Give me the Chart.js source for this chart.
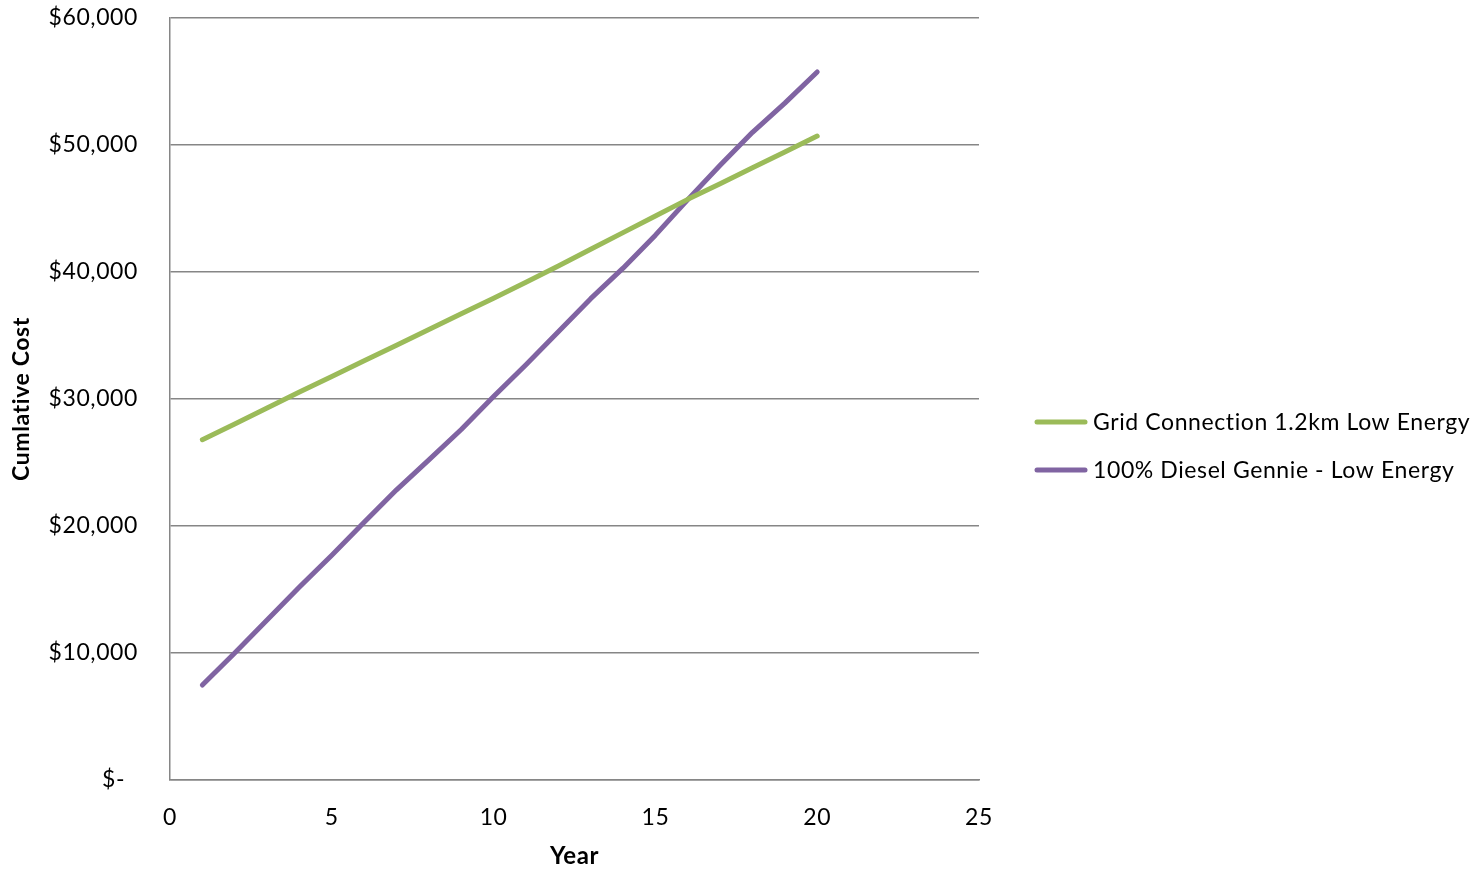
<!DOCTYPE html>
<html>
<head>
<meta charset="utf-8">
<script src="https://cdn.jsdelivr.net/npm/chart.js@4/dist/chart.umd.min.js"></script>
<style>
  html, body { margin: 0; padding: 0; background: #ffffff; }
  #wrap { width: 1481px; height: 871px; position: relative; }
</style>
</head>
<body>
<div id="wrap"><canvas id="c" width="1481" height="871"></canvas></div>
<script>
// Years of operation
const years = [1, 2, 3, 4, 5, 6, 7, 8, 9, 10, 11, 12, 13, 14, 15, 16, 17, 18, 19, 20];

// Cumulative cost per option (USD)
const gridConnection = [26800, 28030, 29290, 30550, 31780, 33010, 34240, 35480, 36710, 37940,
                        39200, 40470, 41790, 43100, 44410, 45720, 46950, 48200, 49450, 50700];
const dieselGennie   = [7480, 10000, 12600, 15200, 17700, 20300, 22850, 25200, 27600, 30200,
                        32700, 35300, 37900, 40300, 42900, 45700, 48400, 51000, 53300, 55750];

const seriesNames = ['Grid Connection 1.2km Low Energy', '100% Diesel Gennie - Low Energy'];
const seriesColors = ['#9BBB59', '#8064A2'];

const yTicks = [0, 10000, 20000, 30000, 40000, 50000, 60000];
const xTicks = [0, 5, 10, 15, 20, 25];

const FONT = 'Lato, "Open Sans", sans-serif';
const GRID = '#868686';
const SPACING = '0.6px';

function toPoints(values) {
  return years.map((yr, i) => ({ x: yr, y: values[i] }));
}

function money(v) {
  if (v === 0) return '$-  ';
  return '$' + v.toLocaleString('en-US');
}

// Slightly wider letter spacing for all canvas text
const spacing = {
  id: 'spacing',
  beforeInit(chart) { chart.ctx.letterSpacing = SPACING; },
  beforeDraw(chart) { chart.ctx.letterSpacing = SPACING; }
};

// Legend on the right: line swatch + label
const sideLegend = {
  id: 'sideLegend',
  afterDraw(chart) {
    const ctx = chart.ctx;
    ctx.save();
    ctx.letterSpacing = SPACING;
    const rows = [422, 470];
    chart.data.datasets.forEach((ds, i) => {
      const y = rows[i];
      ctx.strokeStyle = ds.borderColor;
      ctx.lineWidth = 5;
      ctx.lineCap = 'round';
      ctx.beginPath();
      ctx.moveTo(1037, y);
      ctx.lineTo(1085, y);
      ctx.stroke();
      ctx.fillStyle = '#000000';
      ctx.font = '23px ' + FONT;
      ctx.textAlign = 'left';
      ctx.textBaseline = 'middle';
      ctx.fillText(ds.label, 1093, y + 1);
    });
    ctx.restore();
  }
};

new Chart(document.getElementById('c'), {
  type: 'line',
  data: {
    datasets: [
      { label: seriesNames[0], data: toPoints(gridConnection), borderColor: seriesColors[0] },
      { label: seriesNames[1], data: toPoints(dieselGennie), borderColor: seriesColors[1] }
    ]
  },
  options: {
    responsive: false,
    animation: false,
    devicePixelRatio: 1,
    layout: { padding: { top: 18, right: 502, left: 0, bottom: 0 } },
    elements: {
      line: { borderWidth: 5, tension: 0, borderCapStyle: 'round', borderJoinStyle: 'round', fill: false },
      point: { radius: 0, hoverRadius: 0 }
    },
    plugins: {
      legend: { display: false },
      tooltip: { enabled: false }
    },
    scales: {
      x: {
        type: 'linear',
        min: 0, max: 25,
        afterBuildTicks(scale) { scale.ticks = xTicks.map(v => ({ value: v })); },
        afterFit(scale) { scale.height = 91; },
        grid: { display: false, drawTicks: false },
        border: { display: true, color: GRID, width: 1.5 },
        ticks: { color: '#000', padding: 24, font: { family: FONT, size: 23 }, maxRotation: 0 },
        title: { display: true, text: 'Year', color: '#000', padding: { top: 4, bottom: 0 },
                 font: { family: FONT, size: 24, weight: 'bold' } }
      },
      y: {
        min: 0, max: 60000,
        afterBuildTicks(scale) { scale.ticks = yTicks.map(v => ({ value: v })); },
        afterFit(scale) { scale.width = 170; scale.paddingTop = 0; scale.paddingBottom = 0; },
        grid: { color: GRID, lineWidth: 1.5, drawTicks: false },
        border: { display: true, color: GRID, width: 1.5 },
        ticks: { color: '#000', padding: 32, font: { family: FONT, size: 23 }, callback: v => money(v) },
        title: { display: true, text: 'Cumlative Cost', color: '#000', padding: { bottom: 0, top: 8 },
                 font: { family: FONT, size: 23, weight: 'bold' } }
      }
    }
  },
  plugins: [spacing, sideLegend]
});
</script>
</body>
</html>
